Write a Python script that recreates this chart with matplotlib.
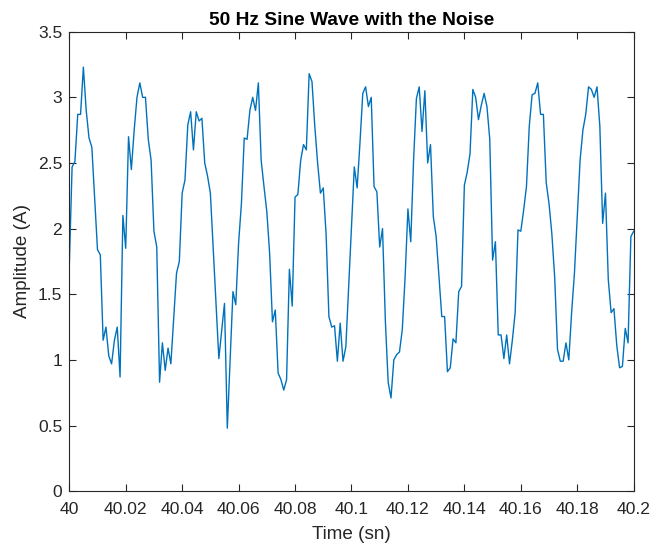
import numpy as np
import matplotlib
matplotlib.use("Agg")
import matplotlib.pyplot as plt

# 1 kHz samples from 40 s to 40.2 s
t_start = 40.0
t_step = 0.001
amplitude = [
    1.71, 2.47, 2.51, 2.87, 2.87, 3.23, 2.90, 2.69, 2.62, 2.23,
    1.84, 1.80, 1.15, 1.25, 1.03, 0.97, 1.15, 1.25, 0.87, 2.10,
    1.85, 2.70, 2.45, 2.75, 3.00, 3.11, 3.00, 3.00, 2.68, 2.52,
    1.98, 1.86, 0.83, 1.13, 0.92, 1.09, 0.97, 1.32, 1.66, 1.75,
    2.27, 2.37, 2.79, 2.89, 2.60, 2.89, 2.82, 2.84, 2.50, 2.40,
    2.27, 1.85, 1.43, 1.01, 1.22, 1.43, 0.48, 1.00, 1.52, 1.42,
    1.89, 2.19, 2.69, 2.68, 2.90, 3.00, 2.90, 3.11, 2.52, 2.32,
    2.13, 1.81, 1.29, 1.38, 0.90, 0.85, 0.77, 0.85, 1.69, 1.41,
    2.24, 2.26, 2.52, 2.64, 2.60, 3.18, 3.12, 2.78, 2.50, 2.27,
    2.31, 1.96, 1.33, 1.25, 1.26, 0.99, 1.28, 0.99, 1.10, 1.56,
    2.02, 2.47, 2.31, 2.65, 3.03, 3.08, 2.93, 3.00, 2.32, 2.28,
    1.86, 2.00, 1.30, 0.83, 0.71, 1.00, 1.04, 1.06, 1.23, 1.63,
    2.15, 1.90, 2.52, 2.99, 3.08, 2.74, 3.05, 2.50, 2.64, 2.09,
    1.94, 1.63, 1.33, 1.33, 0.91, 0.94, 1.16, 1.13, 1.52, 1.56,
    2.33, 2.43, 2.57, 3.06, 3.00, 2.83, 2.94, 3.03, 2.93, 2.68,
    1.76, 1.90, 1.19, 1.19, 1.01, 1.19, 0.97, 1.15, 1.36, 1.99,
    1.98, 2.14, 2.32, 2.78, 3.02, 3.03, 3.11, 2.87, 2.87, 2.35,
    2.19, 1.96, 1.63, 1.08, 0.99, 0.99, 1.13, 1.00, 1.36, 1.66,
    2.09, 2.52, 2.75, 2.87, 3.08, 3.06, 3.00, 3.08, 2.78, 2.04,
    2.27, 1.61, 1.36, 1.39, 1.11, 0.94, 0.95, 1.24, 1.13, 1.94,
    1.98,
]
time = t_start + t_step * np.arange(len(amplitude))

x_ticks = [40, 40.02, 40.04, 40.06, 40.08, 40.1, 40.12, 40.14, 40.16, 40.18, 40.2]
x_labels = ["40", "40.02", "40.04", "40.06", "40.08", "40.1", "40.12",
            "40.14", "40.16", "40.18", "40.2"]
y_ticks = [0, 0.5, 1, 1.5, 2, 2.5, 3, 3.5]
y_labels = ["0", "0.5", "1", "1.5", "2", "2.5", "3", "3.5"]

plt.rcParams['font.family'] = ['Liberation Sans', 'DejaVu Sans']
ink = "#262626"

fig = plt.figure(figsize=(6.66, 5.49), dpi=100)
ax = fig.add_axes([0.104, 0.1053, 0.8475, 0.837])

ax.plot(time, amplitude, color="#0072BD", linewidth=1.0)

ax.set_xlim(40, 40.2)
ax.set_ylim(0, 3.5)
ax.set_xticks(x_ticks)
ax.set_xticklabels(x_labels)
ax.set_yticks(y_ticks)
ax.set_yticklabels(y_labels)

ax.tick_params(direction="in", length=5, width=0.8, colors=ink,
               labelsize=12.6, top=True, right=True, pad=5)
ax.tick_params(axis="x", pad=8)
for s in ax.spines.values():
    s.set_color(ink)
    s.set_linewidth(0.8)

ax.set_xlabel("Time (sn)", fontsize=13.6, color=ink, labelpad=6)
ax.set_ylabel("Amplitude (A)", fontsize=13.6, color=ink, labelpad=5)
ax.set_title("50 Hz Sine Wave with the Noise", fontsize=13.8,
             fontweight="bold", color="black", pad=5)

fig.savefig("out.png", dpi=100)
